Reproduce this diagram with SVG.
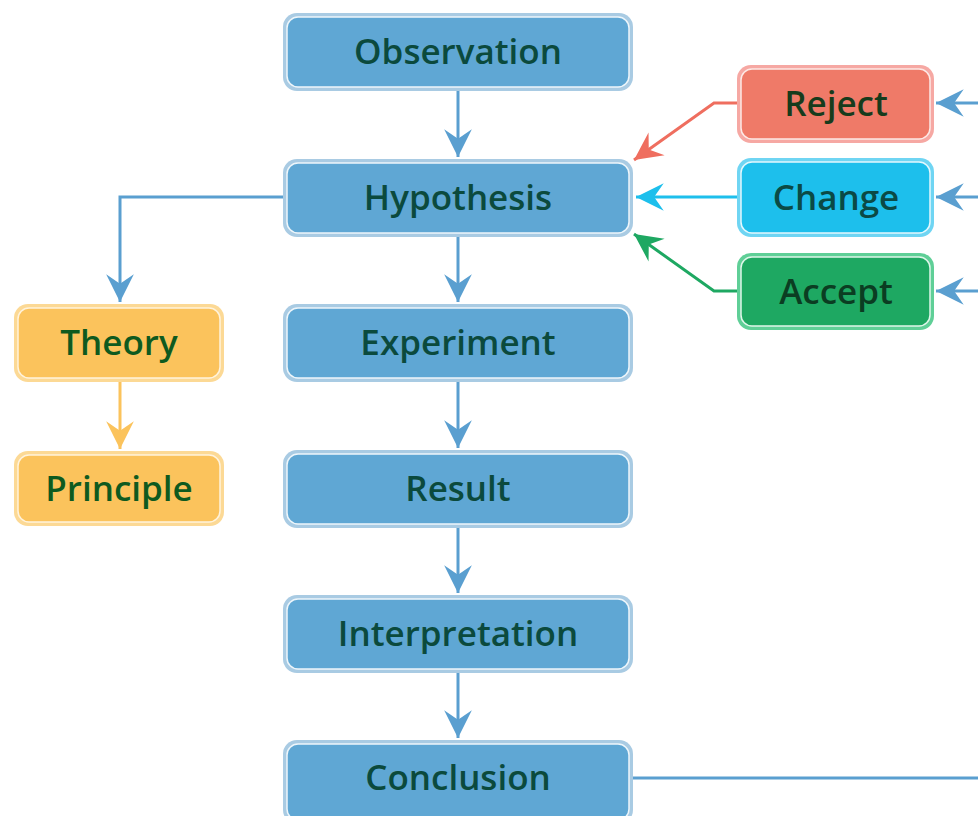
<svg xmlns="http://www.w3.org/2000/svg" width="978" height="816" viewBox="0 0 978 816">
<style>
.lbl{font-family:"Open Sans","Noto Sans","Liberation Sans",sans-serif;font-weight:600;font-size:35px;text-anchor:middle}
.blue .o{fill:#a9cbe3}.blue .i{fill:#5fa7d4;stroke:#eef6fb;stroke-width:1.5}.blue text{fill:#0b4a3d}
.red .o{fill:#f6a8a3}.red .i{fill:#ef7a68;stroke:#fde9e6;stroke-width:1.5}.red text{fill:#173b1c}
.cyan .o{fill:#6fd5f3}.cyan .i{fill:#1dbfec;stroke:#e4f8fe;stroke-width:1.5}.cyan text{fill:#0b4a45}
.green .o{fill:#5fcf97}.green .i{fill:#1ea862;stroke:#e0f6ea;stroke-width:1.5}.green text{fill:#0b3d22}
.orange .o{fill:#fcd995}.orange .i{fill:#fbc35c;stroke:#fff3dc;stroke-width:1.5}.orange text{fill:#0e5a1f}
.c{fill:none;stroke-width:3}
</style>
<defs>
<marker id="ab" markerUnits="userSpaceOnUse" markerWidth="32" markerHeight="32" refX="0" refY="0" viewBox="-28 -15 30 30" orient="auto"><path d="M0,0 L-26,-13 L-17,0 L-26,13 Z" fill="#5a9fd0"/></marker>
<marker id="ar" markerUnits="userSpaceOnUse" markerWidth="32" markerHeight="32" refX="0" refY="0" viewBox="-28 -15 30 30" orient="auto"><path d="M0,0 L-26,-13 L-17,0 L-26,13 Z" fill="#ef6e5f"/></marker>
<marker id="ac" markerUnits="userSpaceOnUse" markerWidth="32" markerHeight="32" refX="0" refY="0" viewBox="-28 -15 30 30" orient="auto"><path d="M0,0 L-26,-13 L-17,0 L-26,13 Z" fill="#1dbfec"/></marker>
<marker id="ag" markerUnits="userSpaceOnUse" markerWidth="32" markerHeight="32" refX="0" refY="0" viewBox="-28 -15 30 30" orient="auto"><path d="M0,0 L-26,-13 L-17,0 L-26,13 Z" fill="#1ea862"/></marker>
<marker id="ao" markerUnits="userSpaceOnUse" markerWidth="32" markerHeight="32" refX="0" refY="0" viewBox="-28 -15 30 30" orient="auto"><path d="M0,0 L-26,-13 L-17,0 L-26,13 Z" fill="#fbc35c"/></marker>
</defs>
<rect width="978" height="816" fill="#ffffff"/>
<g id="connectors">
<path class="c" stroke="#5a9fd0" d="M458,90 V157" marker-end="url(#ab)"/>
<path class="c" stroke="#5a9fd0" d="M458,236 V302" marker-end="url(#ab)"/>
<path class="c" stroke="#5a9fd0" d="M458,381 V448" marker-end="url(#ab)"/>
<path class="c" stroke="#5a9fd0" d="M458,526 V593" marker-end="url(#ab)"/>
<path class="c" stroke="#5a9fd0" d="M458,672 V738" marker-end="url(#ab)"/>
<path class="c" stroke="#5a9fd0" d="M284,197 H120 V302" marker-end="url(#ab)"/>
<path class="c" stroke="#fbc35c" d="M120,382 V449" marker-end="url(#ao)"/>
<path class="c" stroke="#ef6e5f" d="M738,103 H714 L634,160" marker-end="url(#ar)"/>
<path class="c" stroke="#1dbfec" d="M738,197 H636" marker-end="url(#ac)"/>
<path class="c" stroke="#1ea862" d="M738,291 H714 L634,234" marker-end="url(#ag)"/>
<path class="c" stroke="#5a9fd0" d="M978,103 H936" marker-end="url(#ab)"/>
<path class="c" stroke="#5a9fd0" d="M978,197 H936" marker-end="url(#ab)"/>
<path class="c" stroke="#5a9fd0" d="M978,291 H936" marker-end="url(#ab)"/>
<path class="c" stroke="#5a9fd0" d="M633,778 H978"/>
</g>
<g id="observation" class="blue"><rect class="o" x="283" y="13" width="350" height="78" rx="14"/><rect class="i" x="287" y="17" width="342" height="70" rx="11"/><text class="lbl" x="458" y="64">Observation</text></g>
<g id="hypothesis" class="blue"><rect class="o" x="283" y="159" width="350" height="78" rx="14"/><rect class="i" x="287" y="163" width="342" height="70" rx="11"/><text class="lbl" x="458" y="210">Hypothesis</text></g>
<g id="experiment" class="blue"><rect class="o" x="283" y="304" width="350" height="78" rx="14"/><rect class="i" x="287" y="308" width="342" height="70" rx="11"/><text class="lbl" x="458" y="355">Experiment</text></g>
<g id="result" class="blue"><rect class="o" x="283" y="450" width="350" height="78" rx="14"/><rect class="i" x="287" y="454" width="342" height="70" rx="11"/><text class="lbl" x="458" y="501">Result</text></g>
<g id="interpretation" class="blue"><rect class="o" x="283" y="595" width="350" height="78" rx="14"/><rect class="i" x="287" y="599" width="342" height="70" rx="11"/><text class="lbl" x="458" y="646">Interpretation</text></g>
<g id="conclusion" class="blue"><rect class="o" x="283" y="740" width="350" height="84" rx="14"/><rect class="i" x="287" y="744" width="342" height="76" rx="11"/><text class="lbl" x="458" y="790">Conclusion</text></g>
<g id="reject" class="red"><rect class="o" x="737" y="65" width="197" height="78" rx="14"/><rect class="i" x="741" y="69" width="189" height="70" rx="11"/><text class="lbl" x="836" y="116">Reject</text></g>
<g id="change" class="cyan"><rect class="o" x="737" y="158" width="197" height="79" rx="14"/><rect class="i" x="741" y="162" width="189" height="71" rx="11"/><text class="lbl" x="836" y="210">Change</text></g>
<g id="accept" class="green"><rect class="o" x="737" y="253" width="197" height="77" rx="14"/><rect class="i" x="741" y="257" width="189" height="69" rx="11"/><text class="lbl" x="836" y="304">Accept</text></g>
<g id="theory" class="orange"><rect class="o" x="14" y="304" width="210" height="78" rx="14"/><rect class="i" x="18" y="308" width="202" height="70" rx="11"/><text class="lbl" x="119" y="355">Theory</text></g>
<g id="principle" class="orange"><rect class="o" x="14" y="451" width="210" height="75" rx="14"/><rect class="i" x="18" y="455" width="202" height="67" rx="11"/><text class="lbl" x="119" y="501">Principle</text></g>
</svg>
